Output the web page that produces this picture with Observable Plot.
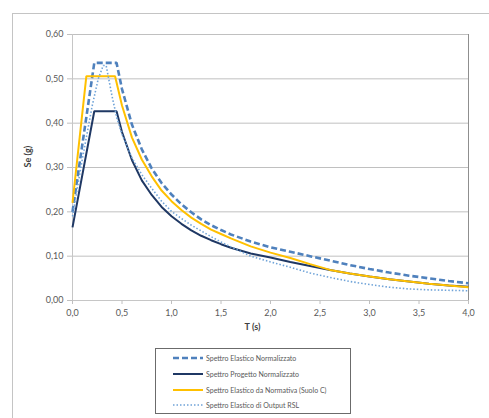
<!DOCTYPE html>
<html>
<head>
<meta charset="utf-8">
<script src="https://cdn.jsdelivr.net/npm/d3@7"></script>
<script src="https://cdn.jsdelivr.net/npm/@observablehq/plot@0.6"></script>
<style>
  html, body { margin: 0; padding: 0; background: #fff; }
  body { width: 489px; height: 418px; position: relative; overflow: hidden; font-family: Lato, "Liberation Sans", sans-serif; }
  #frame { position: absolute; left: 12px; top: 13px; width: 500px; height: 430px; border: 1px solid #c4c4c4; box-sizing: border-box; }
  #chart { position: absolute; left: 0; top: 0; }
  #legend { position: absolute; left: 155px; top: 348px; width: 196px; height: 66px; border: 1px solid #6b6b6b; box-sizing: border-box; background: #fff; }
  .item { position: absolute; left: 17px; height: 12px; display: flex; align-items: center; font-size: 7px; color: #595959; white-space: nowrap; }
  .item svg { margin-right: 3px; }
</style>
</head>
<body>
<div id="frame"></div>
<div id="chart"></div>
<div id="legend"></div>
<script>
// ---- data ----
const seriesNames = [
  "Spettro Elastico Normalizzato",
  "Spettro Progetto Normalizzato",
  "Spettro Elastico da Normativa (Suolo C)",
  "Spettro Elastico di Output RSL"
];

const elasticT  = [0, 0.22, 0.445, 0.5, 0.6, 0.7, 0.8, 0.9, 1.0, 1.1, 1.2, 1.3, 1.4, 1.5, 1.6, 1.8, 2.0, 2.2, 2.4, 2.6, 2.8, 3.0, 3.2, 3.4, 3.6, 3.8, 4.0];
const elasticSe = [0.20, 0.536, 0.536, 0.477, 0.397, 0.341, 0.298, 0.265, 0.239, 0.217, 0.199, 0.183, 0.170, 0.159, 0.149, 0.133, 0.120, 0.110, 0.100, 0.090, 0.080, 0.071, 0.063, 0.056, 0.050, 0.044, 0.039];

const designT  = [0, 0.22, 0.445, 0.5, 0.6, 0.7, 0.8, 0.9, 1.0, 1.1, 1.2, 1.3, 1.4, 1.5, 1.6, 1.8, 2.0, 2.2, 2.4, 2.6, 2.8, 3.0, 3.2, 3.4, 3.6, 3.8, 4.0];
const designSe = [0.165, 0.427, 0.427, 0.380, 0.317, 0.271, 0.238, 0.211, 0.190, 0.173, 0.158, 0.146, 0.136, 0.127, 0.119, 0.106, 0.097, 0.087, 0.078, 0.069, 0.061, 0.054, 0.048, 0.043, 0.038, 0.034, 0.031];

const codeT  = [0, 0.14, 0.43, 0.5, 0.6, 0.7, 0.8, 0.9, 1.0, 1.1, 1.2, 1.3, 1.4, 1.5, 1.6, 1.8, 2.0, 2.2, 2.4, 2.6, 2.8, 3.0, 3.2, 3.4, 3.6, 3.8, 4.0];
const codeSe = [0.22, 0.506, 0.506, 0.440, 0.368, 0.318, 0.280, 0.248, 0.224, 0.204, 0.187, 0.173, 0.160, 0.150, 0.140, 0.122, 0.108, 0.096, 0.082, 0.069, 0.061, 0.054, 0.048, 0.043, 0.038, 0.034, 0.030];

const rslT  = [0, 0.1, 0.2, 0.26, 0.31, 0.34, 0.4, 0.45, 0.5, 0.6, 0.7, 0.8, 0.9, 1.0, 1.1, 1.2, 1.3, 1.4, 1.5, 1.6, 1.8, 2.0, 2.2, 2.4, 2.6, 2.8, 3.0, 3.2, 3.4, 3.6, 3.8, 4.0];
const rslSe = [0.19, 0.32, 0.44, 0.50, 0.53, 0.53, 0.46, 0.41, 0.375, 0.322, 0.284, 0.253, 0.224, 0.201, 0.185, 0.170, 0.157, 0.144, 0.132, 0.121, 0.100, 0.087, 0.075, 0.062, 0.052, 0.043, 0.036, 0.030, 0.026, 0.024, 0.023, 0.022];

const xTicks = [0, 0.5, 1.0, 1.5, 2.0, 2.5, 3.0, 3.5, 4.0];
const yTicks = [0, 0.1, 0.2, 0.3, 0.4, 0.5, 0.6];

const xLabel = "T (s)";
const yLabel = "Se (g)";

// ---- styles ----
const styles = [
  {stroke: "#4f81bd", strokeWidth: 2.6, strokeDasharray: "6,3"},
  {stroke: "#1f3864", strokeWidth: 2},
  {stroke: "#ffc000", strokeWidth: 2},
  {stroke: "#6fa3d8", strokeWidth: 1.6, strokeDasharray: "1.5,2"}
];

const toRows = (ts, vs) => ts.map((t, i) => ({T: t, Se: vs[i]}));
const data = [
  toRows(elasticT, elasticSe),
  toRows(designT, designSe),
  toRows(codeT, codeSe),
  toRows(rslT, rslSe)
];

const comma = (d, n) => d.toFixed(n).replace(".", ",");

const chart = Plot.plot({
  width: 489,
  height: 330,
  marginLeft: 72,
  marginRight: 21,
  marginTop: 34,
  marginBottom: 30,
  x: {domain: [0, 4]},
  y: {domain: [0, 0.6]},
  style: {fontFamily: "Lato, 'Liberation Sans', sans-serif", fontSize: "9px", color: "#595959", background: "transparent", overflow: "visible"},
  marks: [
    Plot.gridY(yTicks, {stroke: "#c0c0c0", strokeOpacity: 1}),
    Plot.ruleX([0], {stroke: "#c6c6c6"}),
    Plot.ruleY([0], {stroke: "#c6c6c6"}),
    Plot.ruleX([4], {stroke: "#8f8f8f"}),
    Plot.axisY({ticks: yTicks, tickFormat: d => comma(d, 2), tickSize: 5, tickPadding: 4, stroke: "#c0c0c0", label: null}),
    Plot.axisX({ticks: xTicks, tickFormat: d => comma(d, 1), tickSize: 4, tickPadding: 5, stroke: "#c0c0c0", label: null}),
    ...data.map((rows, i) => Plot.line(rows, {x: "T", y: "Se", ...styles[i], strokeLinejoin: "miter", strokeLinecap: "butt"})),
    Plot.text([xLabel], {frameAnchor: "bottom", dy: 29, dx: -18, fontWeight: "bold", fontSize: 9, fill: "#404040"}),
    Plot.text([yLabel], {frameAnchor: "left", rotate: -90, dx: -44, fontWeight: "bold", fontSize: 9, fill: "#404040"})
  ]
});
document.getElementById("chart").appendChild(chart);

// ---- legend ----
const legend = document.getElementById("legend");
const itemTops = [3, 19, 35, 50];
seriesNames.forEach((name, i) => {
  const div = document.createElement("div");
  div.className = "item";
  div.style.top = itemTops[i] + "px";
  const s = styles[i];
  div.innerHTML = `<svg width="30" height="6"><line x1="0" y1="3" x2="30" y2="3" stroke="${s.stroke}" stroke-width="${s.strokeWidth}" ${s.strokeDasharray ? `stroke-dasharray="${s.strokeDasharray}"` : ""}/></svg><span>${name}</span>`;
  legend.appendChild(div);
});
</script>
</body>
</html>
